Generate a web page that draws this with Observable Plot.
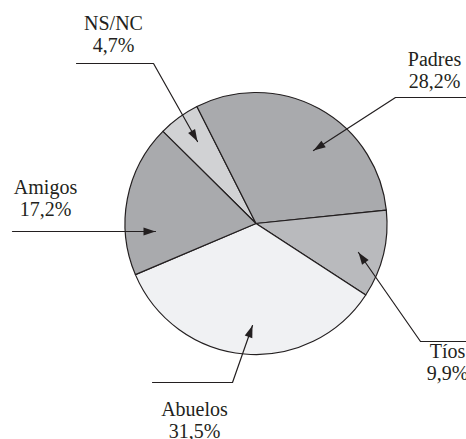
<!DOCTYPE html>
<html>
<head>
<meta charset="utf-8">
<script src="https://cdn.jsdelivr.net/npm/d3@7"></script>
<script src="https://cdn.jsdelivr.net/npm/@observablehq/plot@0.6"></script>
<style>
  html, body { margin: 0; padding: 0; background: #fff; }
</style>
</head>
<body>
<script>
// ---- data ----
const categories = ["NS/NC", "Padres", "Tíos", "Abuelos", "Amigos"];
const percentLabels = ["4,7%", "28,2%", "9,9%", "31,5%", "17,2%"];
const values = [4.7, 28.2, 9.9, 31.5, 17.2];

// ---- styles ----
const sliceColors = ["#d1d2d4", "#a9aaad", "#b9babd", "#f0f1f3", "#a9aaad"];
const ink = "#231f20";
const serifFont = "Liberation Serif, Times New Roman, serif";

// ---- layout (pixel-like data coordinates) ----
const W = 466, H = 439;
const pie = {cx: 256, cy: 223.5, r: 131, startDeg: -45.3};
// label centre x, label line middles, leader points (start, elbow), arrow tip
const textX = [113, 434, 447, 194, 45];
const textMid = [22.6, 58.6, 350.6, 408.6, 186.6];
const lineGap = 22;
const leaders = [
  [[76, 63], [153, 63]],
  [[466, 97], [395, 97]],
  [[466, 341], [420, 341]],
  [[152, 382], [232, 382]],
  [[12, 231]]
];
const tips = [[197, 141], [313, 150], [358, 252], [252, 325], [155, 231]];

// ---- derived tables ----
const textRows = categories.flatMap((c, i) => [
  {t: c, x: textX[i], y: textMid[i]},
  {t: percentLabels[i], x: textX[i], y: textMid[i] + lineGap}
]);
const leaderPts = categories.flatMap((c, i) =>
  [...leaders[i], tips[i]].map(([x, y]) => ({c, x, y}))
);
const heads = categories.map((c, i) => {
  const pts = leaders[i];
  const [ex, ey] = pts[pts.length - 1];
  const [tx, ty] = tips[i];
  return {c, x: tx, y: ty, a: Math.atan2(tx - ex, -(ty - ey)) * 180 / Math.PI};
});

const arrowHead = {
  draw(ctx) {
    ctx.moveTo(0, 0);
    ctx.lineTo(-4, 12);
    ctx.lineTo(4, 12);
    ctx.closePath();
  }
};

function pieMark(index, scales) {
  const arcs = d3.pie().sort(null).value(d => d)
    .startAngle(pie.startDeg * Math.PI / 180)
    .endAngle(pie.startDeg * Math.PI / 180 + 2 * Math.PI)(values);
  const cx = scales.x(pie.cx), cy = scales.y(pie.cy);
  const R = scales.x(pie.cx + pie.r) - cx;
  const arc = d3.arc().innerRadius(0).outerRadius(R);
  const g = d3.create("svg:g").attr("transform", `translate(${cx},${cy})`);
  g.selectAll("path").data(arcs).join("path")
    .attr("d", arc)
    .attr("fill", (d, i) => sliceColors[i])
    .attr("stroke", ink)
    .attr("stroke-width", 1.2)
    .attr("stroke-linejoin", "round");
  return g.node();
}

const chart = Plot.plot({
  width: W,
  height: H,
  margin: 0,
  style: {background: "white", fontFamily: serifFont},
  x: {domain: [0, W], range: [0, W], axis: null},
  y: {domain: [0, H], range: [0, H], axis: null},
  marks: [
    pieMark,
    Plot.line(leaderPts, {x: "x", y: "y", z: "c", stroke: ink, strokeWidth: 1.2, curve: "linear"}),
    Plot.dot(heads, {x: "x", y: "y", rotate: "a", symbol: arrowHead, fill: ink, stroke: "none"}),
    Plot.text(textRows, {
      x: "x", y: "y", text: "t", textAnchor: "middle",
      fontFamily: serifFont, fontSize: 20, fill: ink
    })
  ]
});
document.body.appendChild(chart);
</script>
</body>
</html>
